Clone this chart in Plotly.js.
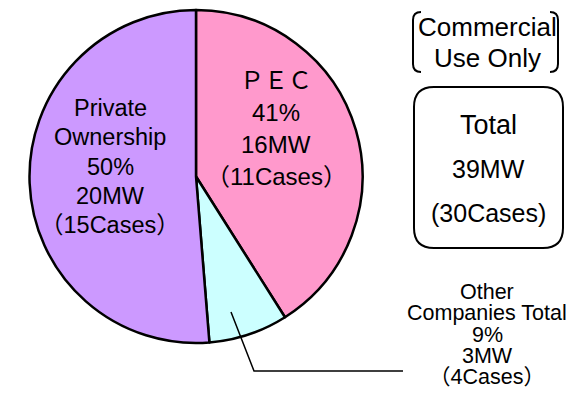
<!DOCTYPE html>
<html>
<head>
<meta charset="utf-8">
<script src="https://cdn.plot.ly/plotly-3.0.1.min.js"></script>
<style>html,body{margin:0;padding:0;background:#fff}#chart{width:583px;height:402px}</style>
</head>
<body>
<div id="chart"></div>
<script>
// ---- data ----
const categories = ['PEC', 'Other Companies Total', 'Private Ownership'];
const nameLines = [['ＰＥＣ'], ['Other', 'Companies Total'], ['Private', 'Ownership']];
const capacityMW = [16, 3, 20];
const sharePct = [41, 9, 50];
const caseCounts = [11, 4, 15];
const totalMW = 39;
const totalCases = 30;
const noteLines = ['Commercial', 'Use Only'];

// ---- layout helpers ----
const W = 583, H = 402;
const X = p => p / W;
const Y = p => 1 - p / H;
const FONT = 'Liberation Sans, Arial, Noto Sans CJK JP, sans-serif';

const sliceColors = ['#FF99CC', '#CCFFFF', '#CC99FF'];

const trace = {
  type: 'pie',
  labels: categories,
  values: capacityMW,
  sort: false,
  direction: 'clockwise',
  rotation: 0,
  textinfo: 'none',
  hoverinfo: 'none',
  marker: {colors: sliceColors, line: {color: '#000', width: 2.5}},
  domain: {x: [X(29.5), X(362.5)], y: [Y(343), Y(10)]},
  showlegend: false
};

function labelLines(i) {
  return nameLines[i].concat([sharePct[i] + '%', capacityMW[i] + 'MW', '（' + caseCounts[i] + 'Cases）']);
}

// label block placement (pixels): centre x, first line y, line step, font size
const blocks = [
  {i: 0, cx: 276, y0: 80, step: 32.3, size: 24},
  {i: 1, cx: 487, y0: 292, step: 21.3, size: 21.5},
  {i: 2, cx: 110, y0: 108, step: 29.3, size: 23.5}
];

const annotations = [];
blocks.forEach(b => {
  labelLines(b.i).forEach((t, k) => {
    annotations.push({
      xref: 'paper', yref: 'paper', x: X(b.cx), y: Y(b.y0 + k * b.step),
      xanchor: 'center', yanchor: 'middle', showarrow: false,
      text: t, font: {family: FONT, size: b.size, color: '#000'}
    });
  });
});

noteLines.forEach((t, k) => {
  annotations.push({
    xref: 'paper', yref: 'paper', x: X(487), y: Y(27 + k * 31),
    xanchor: 'center', yanchor: 'middle', showarrow: false,
    text: t, font: {family: FONT, size: 26, color: '#000'}
  });
});

const totalLines = ['Total', totalMW + 'MW', '(' + totalCases + 'Cases)'];
totalLines.forEach((t, k) => {
  annotations.push({
    xref: 'paper', yref: 'paper', x: X(488), y: Y(125 + k * 44),
    xanchor: 'center', yanchor: 'middle', showarrow: false,
    text: t, font: {family: FONT, size: k === 0 ? 27 : 25, color: '#000'}
  });
});

function path(cmds) {
  return cmds.map(c => c[0] + (c.length > 1 ? ' ' + c.slice(1).map((v, j) => (j % 2 === 0 ? X(v) : Y(v)).toFixed(5)).join(',') : '')).join(' ');
}

const shapes = [
  {type: 'path', xref: 'paper', yref: 'paper', line: {color: '#000', width: 1.5},
   path: path([['M', 231, 312], ['L', 254, 371], ['L', 403, 371]])},
  {type: 'path', xref: 'paper', yref: 'paper', line: {color: '#000', width: 2},
   path: path([['M', 421, 12], ['Q', 413, 12, 413, 20], ['L', 413, 64], ['Q', 413, 72, 421, 72]])},
  {type: 'path', xref: 'paper', yref: 'paper', line: {color: '#000', width: 2},
   path: path([['M', 550, 12], ['Q', 558, 12, 558, 20], ['L', 558, 64], ['Q', 558, 72, 550, 72]])},
  {type: 'path', xref: 'paper', yref: 'paper', line: {color: '#000', width: 2},
   path: path([['M', 434, 87], ['L', 543, 87], ['Q', 563, 87, 563, 107], ['L', 563, 228], ['Q', 563, 248, 543, 248],
               ['L', 434, 248], ['Q', 414, 248, 414, 228], ['L', 414, 107], ['Q', 414, 87, 434, 87], ['Z']])}
];

const layout = {
  width: W, height: H,
  margin: {l: 0, r: 0, t: 0, b: 0},
  paper_bgcolor: '#fff',
  showlegend: false,
  annotations: annotations,
  shapes: shapes
};

Plotly.newPlot('chart', [trace], layout, {displayModeBar: false, staticPlot: true});
</script>
</body>
</html>
